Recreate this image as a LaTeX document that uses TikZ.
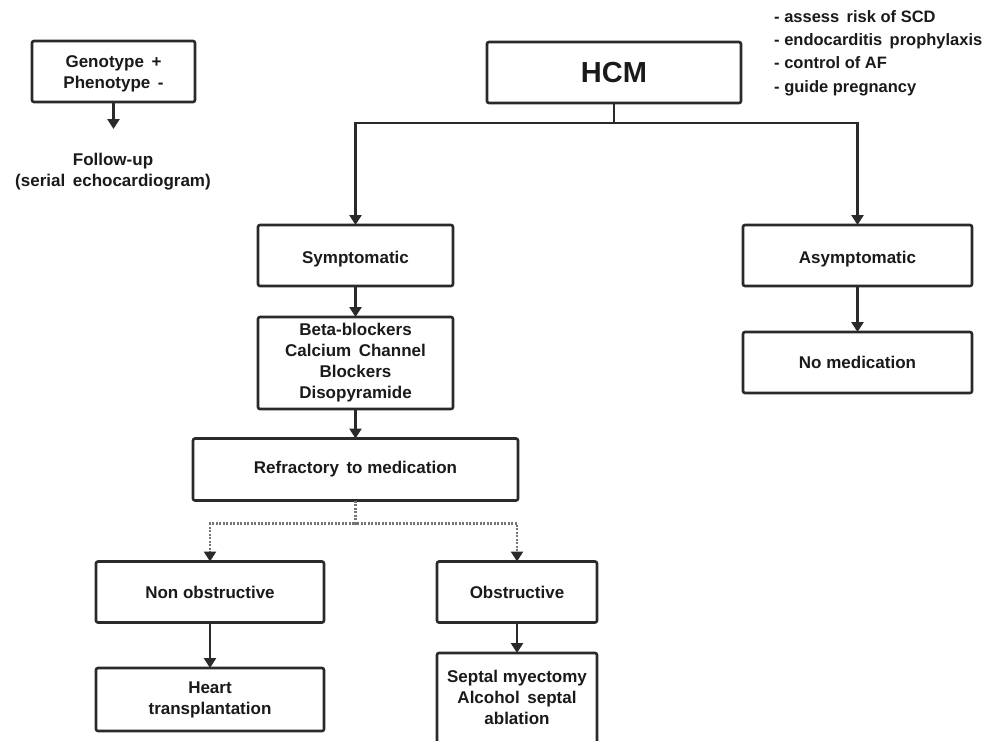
\documentclass[tikz,border=0pt]{standalone}
\usepackage{fontspec}
\setmainfont{Liberation Sans}
\usetikzlibrary{arrows.meta}
\definecolor{ln}{HTML}{2A2A2A}
\definecolor{tx}{HTML}{1A1A1A}
\tikzset{
  box/.style={draw=ln, line width=2.6pt, rounded corners=2pt, inner sep=0pt, outer sep=0pt,
    align=center, text=tx, font=\fontsize{17}{21}\selectfont\bfseries},
  txt/.style={inner sep=0pt, align=center, text=tx, font=\fontsize{17}{21}\selectfont\bfseries},
  low/.style={text height=20.5pt, text depth=3.6pt},
  conn/.style={draw=ln, line width=2.6pt},
  arr/.style={conn, -{Triangle[width=12pt,length=10pt]}},
  dotarr/.style={draw=ln!65, line width=2.4pt, dash pattern=on 2pt off 1.5pt, -{Triangle[width=12pt,length=10pt,color=ln]}},
}
\begin{document}
\begin{tikzpicture}[x=1pt,y=-1pt]
\useasboundingbox (0,0) rectangle (998,740);
\clip (0,0) rectangle (998,740);
\fill[white] (0,0) rectangle (998,740);

% left top
\node[box, minimum width=163, minimum height=61] (geno) at (113.5,71.5) {};
\node[txt] (genotxt) at (113.5,74) {Genotype \,+\\Phenotype \,-};
\coordinate (fu) at (113.5,129);
\draw[arr] (geno.south) -- (fu);
\node[txt] (follow) at (113,172) {Follow-up\\(serial \,echocardiogram)};

% HCM
\node[box, minimum width=254, minimum height=61, font=\fontsize{29}{34}\selectfont\bfseries] (hcm) at (614,72.5) {HCM};
\node[txt, align=left, anchor=north west, font=\fontsize{16.5}{23.4}\selectfont\bfseries] (list) at (774,10)
 {- assess \,risk of SCD\\- endocarditis \,prophylaxis\\- control of AF\\- guide pregnancy};

\node[box, low, minimum width=195, minimum height=61] (symp) at (355.5,255.5) {Symptomatic};
\node[box, low, minimum width=229, minimum height=61] (asym) at (857.5,255.5) {Asymptomatic};
\draw[arr] (hcm.south) -- ++(0,20) -| (symp.north);
\draw[arr] (hcm.south) -- ++(0,20) -| (asym.north);

\node[box, minimum width=229, minimum height=61] (nomed) at (857.5,362.5) {No medication};
\draw[arr] (asym.south) -- (nomed.north);

\node[box, minimum width=195, minimum height=92] (beta) at (355.5,363) {Beta-blockers\\Calcium \,Channel\\Blockers\\Disopyramide};
\draw[arr] (symp.south) -- (beta.north);

\node[box, minimum width=325, minimum height=62] (refr) at (355.5,469.5) {Refractory \,to medication};
\draw[arr] (beta.south) -- (refr.north);

\node[box, minimum width=228, minimum height=61] (nonob) at (210,592) {Non obstructive};
\node[box, minimum width=160, minimum height=61] (obs) at (517,592) {Obstructive};
\draw[dotarr] (refr.south) -- ++(0,23) -| (nonob.north);
\draw[dotarr] (refr.south) -- ++(0,23) -| (obs.north);

\node[box, minimum width=228, minimum height=63] (heart) at (210,699.5) {Heart\\transplantation};
\draw[arr] (nonob.south) -- (heart.north);

\node[box, minimum width=160, minimum height=130, anchor=north] (sept) at (517,653) {};
\node[txt] (septtxt) at (517,697) {Septal myectomy\\Alcohol \,septal\\ablation};
\draw[arr] (obs.south) -- (sept.north);
\end{tikzpicture}
\end{document}
